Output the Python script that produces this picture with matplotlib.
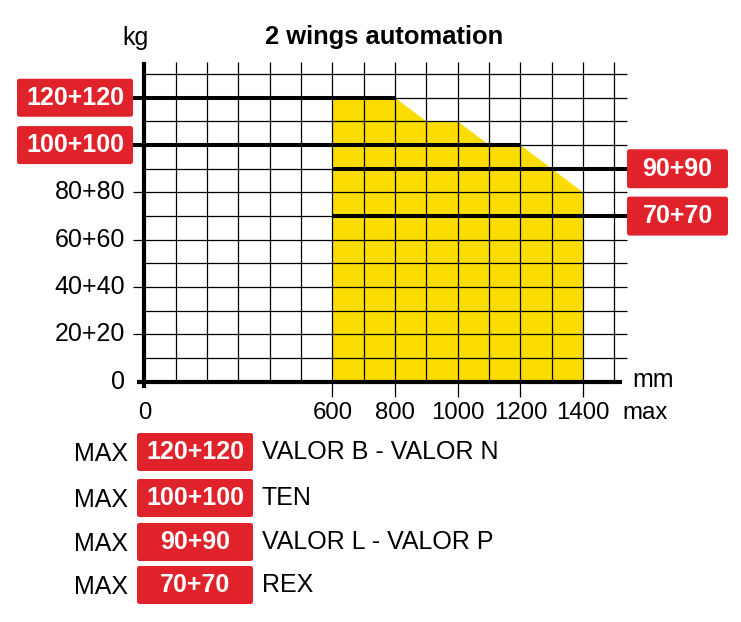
import matplotlib.pyplot as plt
from matplotlib.patches import FancyBboxPatch
import numpy as np

plt.rcParams['font.family'] = ['Liberation Sans', 'DejaVu Sans']

# dati del diagramma
env_x = [600, 600, 800, 900, 1000, 1100, 1200, 1400, 1400]
env_y = [0, 120, 120, 110, 110, 100, 100, 80, 0]
ytick_vals = [0, 20, 40, 60, 80]
ytick_labels = ['0', '20+20', '40+40', '60+60', '80+80']
xtick_vals = [0, 600, 800, 1000, 1200, 1400]
xtick_labels = ['0', '600', '800', '1000', '1200', '1400']
# linee limite: valore, inizio, fine, etichetta, lato
lim_vals = [120, 100, 90, 70]
lim_start = [-38, -38, 600, 600]
lim_end = [800, 1200, 1540, 1540]
lim_labels = ['120+120', '100+100', '90+90', '70+70']
lim_side = ['left', 'left', 'right', 'right']
# tabella modelli
models_box = ['120+120', '100+100', '90+90', '70+70']
models_name = ['VALOR B - VALOR N', 'TEN', 'VALOR L - VALOR P', 'REX']

RED = '#E0222B'
YELLOW = '#FADC00'
W, H = 741, 622
XL = (-461.2, 1903.9)
YL = (-101.5, 161.3)

def px2x(p):
    return XL[0] + p * (XL[1] - XL[0]) / W

def py2y(p):
    return YL[1] - p * (YL[1] - YL[0]) / H

def box(cx, cy, w, h, text):
    # rettangolo rosso in pixel, centrato
    x0 = px2x(cx - w / 2)
    y0 = py2y(cy + h / 2)
    bw = w * (XL[1] - XL[0]) / W
    bh = h * (YL[1] - YL[0]) / H
    asp = ((YL[1] - YL[0]) / H) / ((XL[1] - XL[0]) / W)
    ax.add_patch(FancyBboxPatch((x0, y0), bw, bh,
                 boxstyle='round,pad=0,rounding_size=8',
                 mutation_aspect=asp, fc=RED, ec='none', zorder=5))
    ax.text(px2x(cx), py2y(cy), text, color='white', fontsize=18,
            fontweight='bold', ha='center', va='center', zorder=6)

fig = plt.figure(figsize=(W / 100, H / 100), dpi=100)
ax = fig.add_axes([0, 0, 1, 1])
ax.set_xlim(*XL)
ax.set_ylim(*YL)
ax.axis('off')

# area gialla
ax.fill(env_x, env_y, color=YELLOW, lw=0, zorder=1)

# griglia
gx = np.arange(100, 1600, 100)
gy = np.arange(10, 140, 10)
ax.vlines(gx, 0, 135, color='black', lw=0.9, zorder=2)
ax.hlines(gy, 0, 1540, color='black', lw=0.9, zorder=2)
ax.vlines(xtick_vals[1:], -6.3, 0, color='black', lw=0.9, zorder=2)
ax.hlines(ytick_vals[1:], -38, 0, color='black', lw=0.9, zorder=2)

# assi
ax.plot([-24, 1525], [0, 0], color='black', lw=3, solid_capstyle='butt', zorder=4)
ax.plot([0, 0], [-2.7, 135], color='black', lw=3, solid_capstyle='butt', zorder=4)

# linee limite
for v, s, e, lab, side in zip(lim_vals, lim_start, lim_end, lim_labels, lim_side):
    ax.plot([s, e], [v, v], color='black', lw=2.9, solid_capstyle='butt', zorder=4)
    yp = (YL[1] - v) * H / (YL[1] - YL[0])
    if side == 'left':
        box(75, yp, 116, 38, lab)
    else:
        box(677.5, yp, 101, 39, lab)

# etichette assi
for v, t in zip(ytick_vals, ytick_labels):
    ax.text(px2x(125), v, t, fontsize=18, ha='right', va='center')
for v, t in zip(xtick_vals, xtick_labels):
    ax.text(v, py2y(413), t, fontsize=17.3, ha='center', va='center')
ax.text(px2x(622), py2y(413), 'max', fontsize=17.3, ha='left', va='center')
ax.text(px2x(632), py2y(380), 'mm', fontsize=18, ha='left', va='center')
ax.text(px2x(135), py2y(38), 'kg', fontsize=18, ha='center', va='center')
ax.text(px2x(384), py2y(37), '2 wings automation', fontsize=18.4,
        fontweight='bold', ha='center', va='center')

# tabella
rows_y = [452, 498, 542, 585]
for ry, b, n in zip(rows_y, models_box, models_name):
    ax.text(px2x(128), py2y(ry + 2), 'MAX', fontsize=18, ha='right', va='center')
    box(195, ry, 116, 38, b)
    ax.text(px2x(262), py2y(ry), n, fontsize=18, ha='left', va='center')

plt.savefig('out.png', dpi=100)
